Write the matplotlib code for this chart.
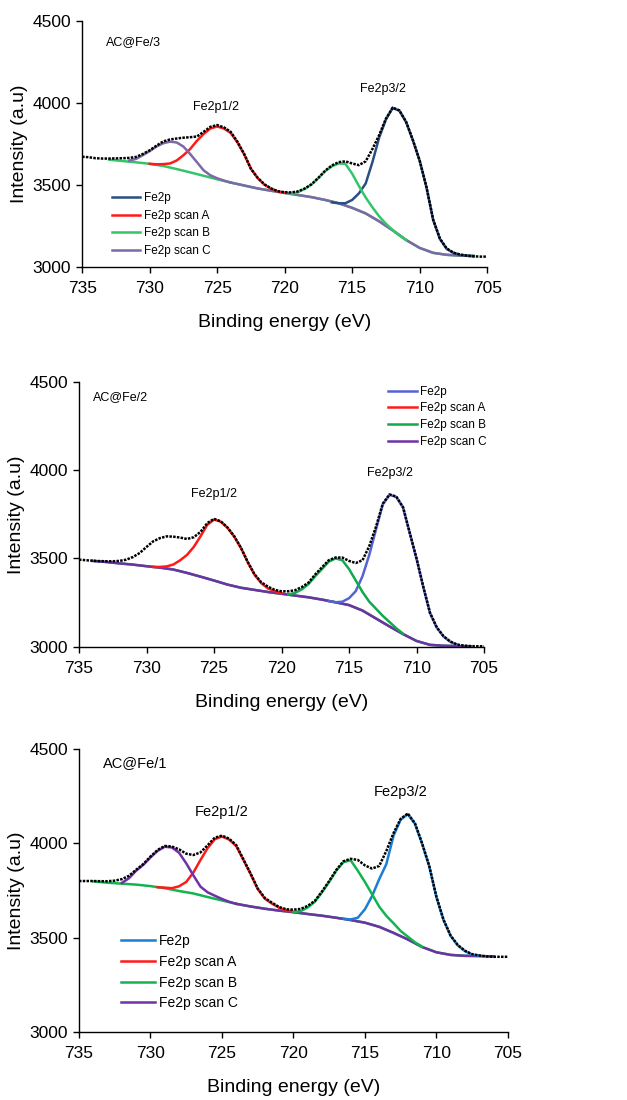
import numpy as np
import matplotlib
matplotlib.use("Agg")
import matplotlib.pyplot as plt
from matplotlib.lines import Line2D

plt.rcParams["font.family"] = ["Liberation Sans", "DejaVu Sans"]

series_labels = ["Fe2p", "Fe2p scan A", "Fe2p scan B", "Fe2p scan C"]

# ---- AC@Fe/3 ----
fe3_env_E = np.arange(735, 704.9, -0.5)
fe3_env = [3673, 3670, 3664, 3662, 3662, 3663, 3664, 3666, 3672, 3690,
           3712, 3740, 3766, 3778, 3784, 3789, 3792, 3796, 3825, 3855,
           3866, 3852, 3825, 3765, 3690, 3600, 3545, 3505, 3480, 3463,
           3457, 3456, 3462, 3480, 3506, 3545, 3588, 3620, 3640, 3645,
           3632, 3622, 3645, 3720, 3805, 3905, 3972, 3955, 3885, 3774,
           3650, 3490, 3290, 3175, 3115, 3089, 3078, 3071, 3067, 3065,
           3065]
fe3_bg_E = np.arange(733, 705.9, -1.0)
fe3_bg = [3655, 3647, 3639, 3630, 3617, 3598, 3578, 3557, 3536, 3516,
          3498, 3480, 3466, 3453, 3440, 3427, 3410, 3390, 3362, 3328,
          3280, 3225, 3166, 3118, 3088, 3076, 3071, 3069]
fe3_main_E = np.arange(716.5, 705.9, -0.5)
fe3_main = [3395, 3390, 3390, 3410, 3450, 3510, 3640, 3790, 3900, 3970, 3953,
            3883, 3772, 3648, 3488, 3288, 3172, 3112, 3088, 3075, 3070, 3068]
fe3_a_E = np.arange(730, 719.9, -0.5)
fe3_a = [3630, 3627, 3628, 3632, 3650, 3682, 3720, 3770, 3812, 3845, 3857,
         3845, 3818, 3760, 3688, 3600, 3543, 3503, 3478, 3462, 3453]
fe3_b_E = np.arange(719.5, 710.9, -0.5)
fe3_b = [3447, 3458, 3478, 3505, 3543, 3585, 3615, 3632, 3630, 3570,
         3495, 3425, 3365, 3310, 3265, 3227, 3195, 3166]
fe3_c_E = np.arange(731.5, 723.9, -0.5)
fe3_c = [3650, 3660, 3683, 3707, 3735, 3755, 3765, 3760, 3735, 3690,
         3640, 3590, 3560, 3542, 3528, 3516]

# ---- AC@Fe/2 ----
fe2_env_E = np.arange(735, 704.9, -0.5)
fe2_env = [3493, 3490, 3487, 3485, 3484, 3484, 3486, 3493, 3508, 3531,
           3565, 3597, 3615, 3625, 3623, 3618, 3610, 3620, 3650, 3700,
           3724, 3710, 3675, 3625, 3560, 3480, 3410, 3365, 3340, 3322,
           3314, 3314, 3320, 3338, 3363, 3410, 3450, 3490, 3505, 3505,
           3486, 3474, 3490, 3570, 3680, 3810, 3862, 3850, 3790, 3644,
           3500, 3340, 3192, 3110, 3060, 3030, 3013, 3007, 3004, 3003,
           3003]
fe2_bg_E = np.arange(734, 705.9, -1.0)
fe2_bg = [3486, 3480, 3472, 3465, 3456, 3448, 3437, 3418, 3397, 3375,
          3352, 3334, 3322, 3310, 3300, 3290, 3280, 3267, 3252, 3236,
          3205, 3160, 3115, 3072, 3033, 3011, 3006, 3004, 3003]
fe2_main_E = np.arange(716.5, 706.9, -0.5)
fe2_main = [3258, 3252, 3255, 3275, 3315, 3400, 3520, 3665, 3805, 3860,
            3848, 3788, 3643, 3498, 3338, 3190, 3108, 3058, 3028, 3012]
fe2_a_E = np.arange(729.5, 719.9, -0.5)
fe2_a = [3452, 3452, 3455, 3466, 3490, 3520, 3565, 3625, 3690, 3720,
         3708, 3673, 3623, 3558, 3478, 3408, 3360, 3330, 3315, 3303]
fe2_b_E = np.arange(719.5, 710.9, -0.5)
fe2_b = [3296, 3305, 3325, 3355, 3400, 3440, 3482, 3500, 3490, 3440,
         3375, 3310, 3255, 3215, 3175, 3140, 3105, 3074]

# ---- AC@Fe/1 ----
fe1_env_E = np.arange(735, 704.9, -0.5)
fe1_env = [3800, 3800, 3800, 3799, 3799, 3802, 3810, 3828, 3860, 3890,
           3930, 3965, 3986, 3983, 3968, 3945, 3938, 3952, 3990, 4030,
           4041, 4025, 3990, 3915, 3840, 3760, 3710, 3685, 3662, 3650,
           3648, 3652, 3668, 3695, 3745, 3800, 3859, 3905, 3918, 3912,
           3883, 3866, 3880, 3960, 4054, 4130, 4158, 4107, 4000, 3880,
           3717, 3595, 3510, 3460, 3430, 3412, 3405, 3400, 3398, 3398,
           3398]
fe1_bg_E = np.arange(734, 705.9, -1.0)
fe1_bg = [3798, 3791, 3786, 3781, 3773, 3762, 3747, 3734, 3715, 3697,
          3679, 3665, 3653, 3643, 3635, 3625, 3616, 3605, 3593, 3579,
          3557, 3525, 3490, 3450, 3422, 3408, 3403, 3402, 3400]
fe1_main_E = np.arange(716.5, 706.9, -0.5)
fe1_main = [3600, 3596, 3605, 3650, 3720, 3810, 3890, 4040, 4125, 4155,
            4103, 3998, 3878, 3715, 3592, 3508, 3458, 3428, 3410, 3404]
fe1_a_E = np.arange(729.5, 719.9, -0.5)
fe1_a = [3767, 3765, 3762, 3772, 3795, 3845, 3912, 3975, 4022, 4036,
         4020, 3985, 3912, 3838, 3758, 3706, 3680, 3658, 3645, 3636]
fe1_b_E = np.arange(720, 710.9, -0.5)
fe1_b = [3635, 3640, 3660, 3690, 3740, 3795, 3855, 3900, 3910, 3855,
         3795, 3730, 3664, 3615, 3576, 3535, 3505, 3475, 3452]
fe1_c_E = np.arange(732, 723.9, -0.5)
fe1_c = [3790, 3815, 3855, 3886, 3925, 3960, 3982, 3978, 3950, 3894,
         3830, 3770, 3740, 3722, 3705, 3690, 3679]


def draw_panel(fig, rect, name, env, bg, comps, colors, purple_from,
               fs, name_xy, p12_xy, p32_xy, leg_anchor, leg_spacing):
    ax = fig.add_axes(rect)
    c_main, c_a, c_b, c_c = colors

    # Shirley-type background: green on the high-energy side, purple elsewhere
    bg_E, bg_I = np.asarray(bg[0]), np.asarray(bg[1])
    ax.plot(bg_E, bg_I, color=c_b, lw=1.8, zorder=2)
    keep = bg_E <= purple_from
    ax.plot(bg_E[keep], bg_I[keep], color=c_c, lw=1.8, zorder=2.5)

    for (E, I), col in zip(comps, colors):
        if E is None:
            continue
        ax.plot(E, I, color=col, lw=1.8, zorder=3)

    ax.plot(env[0], env[1], color="black", lw=1.8,
            linestyle=(0, (1, 0.5)), zorder=4)

    ax.set_xlim(735, 705)
    ax.set_ylim(3000, 4500)
    ax.set_xticks(range(735, 704, -5))
    ax.set_yticks(range(3000, 4501, 500))
    ax.tick_params(direction="out", length=4, width=1, labelsize=12.5,
                   colors="black")
    ax.tick_params(axis="x", pad=6)
    ax.tick_params(axis="y", pad=4)
    for side in ("top", "right"):
        ax.spines[side].set_visible(False)
    for side in ("left", "bottom"):
        ax.spines[side].set_linewidth(1.0)
    ax.set_xlabel("Binding energy (eV)", fontsize=14, labelpad=13)
    ax.set_ylabel("Intensity (a.u)", fontsize=14, labelpad=3)

    ax.text(*name_xy, name, fontsize=fs + 0.5, ha="left", va="center")
    ax.text(*p12_xy, "Fe2p1/2", fontsize=fs + 0.5, ha="center", va="center")
    ax.text(*p32_xy, "Fe2p3/2", fontsize=fs + 0.5, ha="center", va="center")

    handles = [Line2D([], [], color=c, lw=1.8) for c in colors]
    ax.legend(handles, series_labels, loc="upper left",
              bbox_to_anchor=leg_anchor, frameon=False, fontsize=fs,
              handlelength=2.4, handletextpad=0.3, labelspacing=leg_spacing,
              borderpad=0, borderaxespad=0)
    return ax


fig = plt.figure(figsize=(6.27, 11.0), dpi=100)

draw_panel(fig, [0.131, 0.757, 0.646, 0.224], "AC@Fe/3",
           (fe3_env_E, fe3_env), (fe3_bg_E, fe3_bg),
           [(fe3_main_E, fe3_main), (fe3_a_E, fe3_a),
            (fe3_b_E, fe3_b), (fe3_c_E, fe3_c)],
           ["#2b4f81", "#ff1a1a", "#35c46a", "#7d68a8"], 724.5,
           8.5, (733.2, 4372), (725.1, 3977), (712.7, 4088),
           (0.074, 0.305), 0.47)

draw_panel(fig, [0.126, 0.412, 0.646, 0.241], "AC@Fe/2",
           (fe2_env_E, fe2_env), (fe2_bg_E, fe2_bg),
           [(fe2_main_E, fe2_main), (fe2_a_E, fe2_a),
            (fe2_b_E, fe2_b), (None, None)],
           ["#5563d2", "#ff1a1a", "#14a84e", "#7031a6"], 740,
           8.5, (734.0, 4411), (725.0, 3866), (712.0, 3982),
           (0.764, 0.985), 0.4)

draw_panel(fig, [0.126, 0.062, 0.684, 0.257], "AC@Fe/1",
           (fe1_env_E, fe1_env), (fe1_bg_E, fe1_bg),
           [(fe1_main_E, fe1_main), (fe1_a_E, fe1_a),
            (fe1_b_E, fe1_b), (fe1_c_E, fe1_c)],
           ["#1a7fd4", "#ff1a1a", "#12b350", "#7031a6"], 724.5,
           10, (733.3, 4426), (725.0, 4164), (712.5, 4275),
           (0.099, 0.345), 0.48)

fig.savefig("out.png", dpi=100)
